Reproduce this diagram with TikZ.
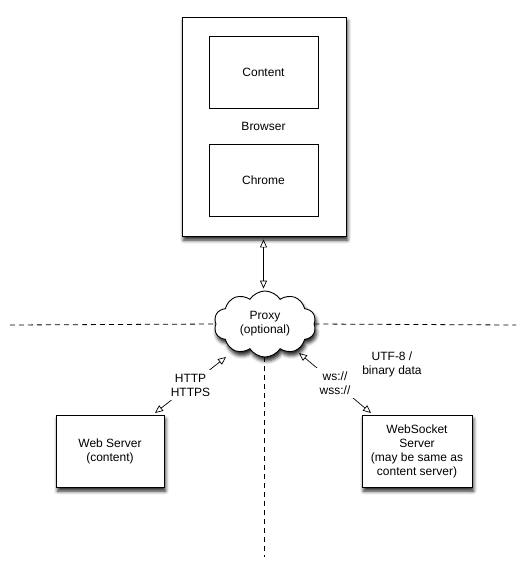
\documentclass[tikz,border=0pt]{standalone}
\usepackage{fontspec}
\setmainfont{Liberation Sans}
\usetikzlibrary{shapes.symbols,arrows.meta,shadows.blur,calc}
\begin{document}
\begin{tikzpicture}[x=1pt,y=-1pt,
  txt/.style={font=\fontsize{12}{14}\selectfont, align=center},
  box/.style={draw, fill=white, line width=0.9pt, txt},
  shad/.style={blur shadow={shadow xshift=1.5pt, shadow yshift=-4pt, shadow blur radius=3.5pt, shadow opacity=85}},
  sbox/.style={box, shad},
  arr/.style={{Triangle[open,length=8pt,width=7pt]}-{Triangle[open,length=8pt,width=7pt]}, line width=0.7pt},
  lbl/.style={txt, fill=white, inner sep=4pt},
  dline/.style={dash pattern=on 5pt off 4pt, line width=0.8pt}
]
\useasboundingbox (0,0) rectangle (526,570);

% Browser
\node[sbox, minimum width=164pt, minimum height=219pt] (browser) at (264,126.5) {};
\node[box, minimum width=109pt, minimum height=72pt] (content) at (263.5,72) {Content};
\node[box, minimum width=109pt, minimum height=72pt] (chrome) at (263.5,180) {Chrome};
\node[txt] (blabel) at (263.5,126) {Browser};

% Proxy cloud
\node[cloud, draw, fill=white, line width=0.9pt, cloud puffs=10, cloud puff arc=115, aspect=1.6,
      minimum width=102pt, minimum height=66pt, inner sep=0pt, shad, txt] (proxy) at (265,324) {Proxy\\(optional)};

% Dashed separators
\coordinate (hl) at (10,325);
\coordinate (hr) at (516,325);
\coordinate (vb) at (264,557);
\draw[dline] (hl) -- (proxy.west);
\draw[dline] (proxy.east) -- (hr);
\draw[dline] (proxy.south -| vb) -- (vb);

% Servers
\node[sbox, minimum width=108pt, minimum height=72pt] (web) at (110,451) {Web Server\\(content)};
\node[sbox, minimum width=110pt, minimum height=72pt] (wss) at (417,451) {WebSocket\\Server\\(may be same as\\content server)};

% Connectors
\draw[arr, shorten <=3pt, shorten >=2pt] (browser.south -| blabel) -- (blabel |- proxy.north);

\coordinate (pL) at (226,357);
\coordinate (wL) at (155,413);
\draw[arr] (pL) -- node[lbl] (httpl) {HTTP\\HTTPS} (wL);

\coordinate (pR) at (299,353);
\coordinate (wR) at (371,413);
\draw[arr] (pR) -- node[lbl] (wsl) {ws://\\wss://} (wR);

\node[txt] (utf) at (392,364) {UTF-8 /\\binary data};
\end{tikzpicture}
\end{document}
